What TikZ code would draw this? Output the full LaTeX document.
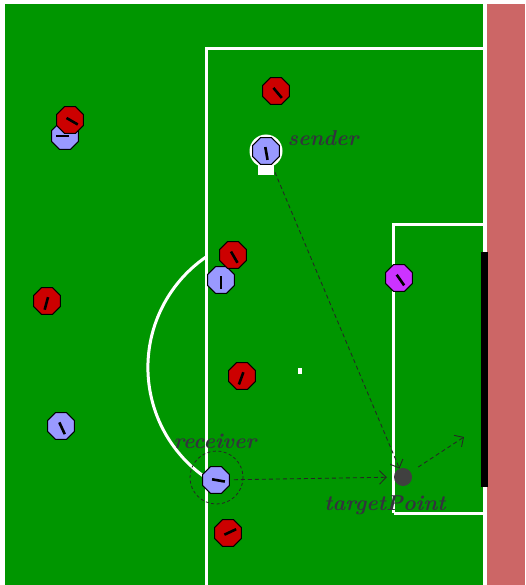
\documentclass[tikz,border=0pt]{standalone}
\usetikzlibrary{arrows.meta, shapes.geometric}
\definecolor{pitch}{RGB}{0, 150, 0}
\definecolor{outside}{RGB}{204, 102, 102}
\definecolor{redteam}{RGB}{204, 0, 0}
\definecolor{blueteam}{RGB}{153, 153, 255}
\definecolor{keeper}{RGB}{204, 51, 255}
\definecolor{labelgray}{RGB}{51, 51, 61}
\definecolor{ballgray}{RGB}{64, 64, 64}
\tikzset{
	line/.style={draw=white, line width=3pt},
	player/.style={regular polygon, regular polygon sides=8, minimum size=29pt, inner sep=0pt, draw=black, line width=1pt},
	heading/.style={draw=black, line width=2.6pt},
	target/.style={circle, fill=ballgray, minimum size=18pt, inner sep=0pt},
	tag/.style={text=labelgray, anchor=base, font=\fontsize{21.5}{21.5}\selectfont\bfseries\itshape},
	pass/.style={-{Straight Barb[length=2.4mm]}, draw=black!85, line width=0.85pt, dash pattern=on 4pt off 3pt},
}
\newcommand\player[4]{%
	\node[player, fill=#3] (#1) at (#2) {};
	\draw[heading] (#1.center) ++(#4:-4) -- ++(#4:13);
}
\begin{document}
\begin{tikzpicture}[x=1pt, y=-1pt]
	\useasboundingbox (0,0) rectangle (525,585);
	\fill[white] (0,0) rectangle (525,585);
	% pitch
	\fill[pitch] (5,4) rectangle (483,585);
	\fill[outside] (487,4) rectangle (525,585);
	\draw[line] (206,587) -- (206,48.5) -- (484,48.5);
	\draw[line] (393.5,513) -- (393.5,224.5) -- (484,224.5);
	\draw[line] (393.5,513) -- (484,513);
	\draw[line] (484,4) -- (484,585);
	\draw[line] (206,257) arc[start angle=-124.5, end angle=-235.5, radius=134];
	\fill[white] (298,368) rectangle (302,374);
	\fill[black] (481,252) rectangle (488,487);
	% players
	\player{b1}{65,136}{blueteam}{180}
	\player{r1}{70,120}{redteam}{30}
	\player{r2}{276,91}{redteam}{50}
	\fill[white] (266,151) circle (16.5);
	\fill[white] (258,158) rectangle (274,175);
	\player{sender}{266,151}{blueteam}{80}
	\player{b2}{221,280}{blueteam}{90}
	\player{r3}{233,255}{redteam}{60}
	\player{goalie}{399,278}{keeper}{55}
	\player{r4}{47,301}{redteam}{105}
	\player{r5}{242,376}{redteam}{110}
	\player{b3}{61,426}{blueteam}{65}
	\player{receiver}{216,480}{blueteam}{10}
	\player{r6}{228,533}{redteam}{-25}
	\node[target] (targetPoint) at (403,477) {};
	\draw[draw=black!85, line width=0.8pt, dash pattern=on 3pt off 2.5pt] (216.5,477.5) circle (26.5);
	\coordinate (lead) at (464,437);
	% labels
	\node[tag] (senderTag) at (323,146) {sender};
	\node[tag] (receiverTag) at (215,448) {receiver};
	\node[tag] (targetTag) at (385,510) {targetPoint};
	% passes
	\draw[pass, shorten <=8pt] (sender) -- (targetPoint);
	\draw[pass, shorten <=4pt, shorten >=7pt] (receiver) -- (targetPoint);
	\draw[pass, shorten <=9pt] (targetPoint) -- (lead);
\end{tikzpicture}
\end{document}
